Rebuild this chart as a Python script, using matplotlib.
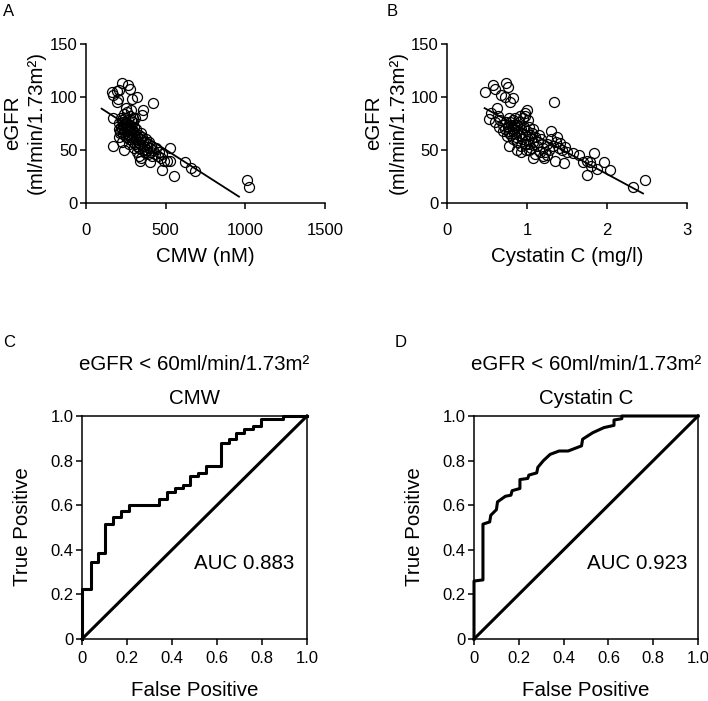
import matplotlib
matplotlib.use("Agg")
import matplotlib.pyplot as plt
import numpy as np

plt.rcParams['font.family'] = ['Liberation Sans', 'DejaVu Sans']

# panel A: CMW (nM) vs eGFR
cmw = [161, 168, 224, 192, 203, 209, 266, 276, 286, 318, 197, 423, 360, 251, 349, 172, 167, 238,
       381, 339, 402, 475, 554, 621, 657, 684, 527, 506, 527, 1008, 1025,
       205, 210, 215, 220, 225, 230, 235, 240, 245, 250, 255, 260, 262, 265, 270, 272, 275, 278,
       280, 283, 285, 288, 290, 292, 295, 298, 300, 302, 305, 308, 310, 312, 315, 318, 320, 325,
       330, 335, 338, 340, 345, 350, 355, 360, 365, 370, 375, 380, 385, 390, 395, 400, 405, 410,
       415, 420, 430, 440, 450, 460, 470, 480, 490, 210, 218, 228, 238, 248, 258, 268, 282, 296,
       215, 225, 232, 242, 252, 278, 300, 320, 333, 345]
egfr_a = [105, 102, 113, 106, 98, 107, 111, 108, 98, 100, 95, 94, 88, 90, 83, 80, 54, 50,
          53, 40, 39, 31, 25, 39, 33, 30, 52, 40, 40, 22, 15,
          75, 70, 68, 72, 78, 65, 74, 70, 80, 76, 68, 72, 64, 78, 70, 60, 82, 74,
          66, 72, 78, 62, 70, 76, 58, 68, 72, 64, 80, 56, 66, 60, 70, 62, 54, 58,
          64, 52, 60, 56, 66, 62, 50, 58, 54, 48, 60, 56, 50, 46, 58, 52, 48, 54,
          44, 50, 46, 52, 44, 48, 42, 46, 40, 62, 80, 58, 84, 62, 86, 56, 88, 80,
          66, 70, 76, 66, 72, 62, 52, 48, 44, 42]
fit_a_x = [98, 960]
fit_a_y = [89, 6]

# panel B: Cystatin C (mg/l) vs eGFR
cys = [0.47, 0.57, 0.60, 0.74, 0.76, 0.68, 0.72, 0.82, 0.79, 0.62, 1.34, 0.53, 0.64, 0.77,
       1.00, 0.97, 1.30, 1.75, 1.84, 1.96, 2.04, 2.33, 2.47, 1.70, 1.79, 1.87, 1.46, 1.35,
       1.08, 1.21, 1.58, 1.48, 1.41, 1.37,
       0.66, 0.70, 0.72, 0.74, 0.76, 0.78, 0.78, 0.80, 0.80, 0.82, 0.82, 0.84, 0.84, 0.86,
       0.86, 0.88, 0.88, 0.90, 0.90, 0.92, 0.92, 0.94, 0.94, 0.95, 0.96, 0.97, 0.98, 0.99,
       1.00, 1.01, 1.02, 1.03, 1.04, 1.05, 1.06, 1.08, 1.10, 1.12, 1.14, 1.16, 1.18, 1.20,
       1.22, 1.25, 1.28, 1.30, 1.32, 1.36, 1.40, 1.44, 1.50, 0.88, 0.93, 0.98, 1.01, 0.70,
       0.75, 0.85, 1.07, 1.15, 0.83, 0.91, 0.65, 0.60, 0.55, 1.25, 1.75, 1.80, 1.65, 1.20,
       1.10, 0.99, 0.87, 0.79, 0.77, 1.03]
egfr_b = [105, 111, 108, 113, 109, 102, 100, 99, 95, 90, 95, 79, 82, 54,
          88, 82, 68, 26, 47, 39, 31, 15, 22, 39, 39, 32, 38, 40,
          42, 42, 47, 53, 57, 62,
          78, 74, 70, 76, 72, 68, 80, 74, 64, 70, 78, 66, 74, 62,
          72, 68, 58, 76, 64, 70, 54, 66, 60, 80, 72, 56, 64, 50,
          68, 60, 56, 72, 64, 52, 66, 58, 62, 54, 58, 48, 60, 52,
          48, 56, 50, 60, 54, 58, 52, 50, 48, 50, 48, 85, 78, 68,
          63, 80, 70, 64, 60, 82, 72, 76, 85, 45, 40, 35, 45, 44,
          46, 56, 74, 76, 66, 50]
fit_b_x = [0.47, 2.45]
fit_b_y = [89.5, 9]

# panel C: ROC for CMW (step corners)
roc_c_fpr = [0, 0, 0.04, 0.073, 0.10, 0.137, 0.174, 0.208, 0.34, 0.377, 0.415, 0.448, 0.478,
             0.515, 0.549, 0.619, 0.653, 0.685, 0.722, 0.76, 0.797, 0.893, 1.0]
roc_c_tpr = [0, 0.224, 0.345, 0.385, 0.515, 0.545, 0.575, 0.60, 0.63, 0.66, 0.675, 0.69, 0.73,
             0.745, 0.775, 0.88, 0.895, 0.925, 0.94, 0.955, 0.985, 1.0, 1.0]

# panel D: ROC for Cystatin C
roc_d_fpr = [0, 0, 0.04, 0.04, 0.07, 0.075, 0.10, 0.105, 0.14, 0.165, 0.17, 0.205, 0.205, 0.24,
             0.245, 0.28, 0.285, 0.31, 0.34, 0.38, 0.42, 0.48, 0.485, 0.53, 0.58, 0.625, 0.625,
             0.66, 0.66, 1.0]
roc_d_tpr = [0, 0.26, 0.265, 0.515, 0.525, 0.555, 0.58, 0.615, 0.64, 0.645, 0.665, 0.675, 0.715,
             0.72, 0.735, 0.745, 0.77, 0.80, 0.828, 0.843, 0.843, 0.866, 0.896, 0.925, 0.948,
             0.958, 0.982, 0.988, 1.0, 1.0]

W, H = 708, 701
fig = plt.figure(figsize=(W / 100, H / 100), dpi=100)


def axes_px(left, right, top, bottom):
    return fig.add_axes([left / W, 1 - bottom / H, (right - left) / W, (bottom - top) / H])


def style(ax, box=False, xpad=10):
    for s in ['left', 'bottom', 'top', 'right']:
        ax.spines[s].set_linewidth(1.1)
    if not box:
        ax.spines['top'].set_visible(False)
        ax.spines['right'].set_visible(False)
    ax.tick_params(direction='out', length=4.5, width=1.1, labelsize=12)
    ax.tick_params(axis='x', pad=xpad)
    ax.tick_params(axis='y', pad=1.5)


lab = 14.8

# A
axA = axes_px(86, 325, 44, 203)
axA.plot(cmw, egfr_a, 'o', mfc='none', mec='black', ms=7.2, mew=0.9, clip_on=False)
axA.plot(fit_a_x, fit_a_y, color='black', lw=1.3)
axA.set_xlim(0, 1500)
axA.set_ylim(0, 150)
axA.set_xticks([0, 500, 1000, 1500])
axA.set_yticks([0, 50, 100, 150])
style(axA)
fig.text(205.5 / W, 1 - 257 / H, 'CMW (nM)', ha='center', va='center', fontsize=lab)
fig.text(12.5 / W, 1 - 123 / H, 'eGFR', ha='center', va='center', rotation=90, fontsize=lab)
fig.text(36.5 / W, 1 - 123 / H, '(ml/min/1.73m²)', ha='center', va='center', rotation=90, fontsize=lab)
fig.text(3 / W, 1 - 11 / H, 'A', ha='left', va='center', fontsize=12)

# B
axB = axes_px(447, 687, 44, 203)
axB.plot(cys, egfr_b, 'o', mfc='none', mec='black', ms=7.2, mew=0.9, clip_on=False)
axB.plot(fit_b_x, fit_b_y, color='black', lw=1.3)
axB.set_xlim(0, 3)
axB.set_ylim(0, 150)
axB.set_xticks([0, 1, 2, 3])
axB.set_yticks([0, 50, 100, 150])
style(axB)
fig.text(567 / W, 1 - 257 / H, 'Cystatin C (mg/l)', ha='center', va='center', fontsize=lab)
fig.text(374 / W, 1 - 123 / H, 'eGFR', ha='center', va='center', rotation=90, fontsize=lab)
fig.text(398 / W, 1 - 123 / H, '(ml/min/1.73m²)', ha='center', va='center', rotation=90, fontsize=lab)
fig.text(387 / W, 1 - 11 / H, 'B', ha='left', va='center', fontsize=12)

ticks = [0, 0.2, 0.4, 0.6, 0.8, 1.0]
ticklab = ['0', '0.2', '0.4', '0.6', '0.8', '1.0']

# C
axC = axes_px(82, 307, 416, 639)
axC.plot([0, 1], [0, 1], color='black', lw=2.2, clip_on=False)
axC.plot(roc_c_fpr, roc_c_tpr, color='black', lw=2.2, drawstyle='steps-post', clip_on=False)
axC.text(0.72, 0.34, 'AUC 0.883', ha='center', va='center', fontsize=lab)
axC.set_xlim(0, 1)
axC.set_ylim(0, 1)
axC.set_xticks(ticks)
axC.set_xticklabels(ticklab)
axC.set_yticks(ticks)
axC.set_yticklabels(ticklab)
style(axC, box=True, xpad=4)
fig.text(194.5 / W, 1 - 364 / H, 'eGFR < 60ml/min/1.73m²', ha='center', va='center', fontsize=lab)
fig.text(194.5 / W, 1 - 399 / H, 'CMW', ha='center', va='center', fontsize=lab)
fig.text(194.5 / W, 1 - 690 / H, 'False Positive', ha='center', va='center', fontsize=lab)
fig.text(23 / W, 1 - 527 / H, 'True Positive', ha='center', va='center', rotation=90, fontsize=lab)
fig.text(3 / W, 1 - 343 / H, 'C', ha='left', va='center', fontsize=12)

# D
axD = axes_px(474, 698, 416, 639)
axD.plot([0, 1], [0, 1], color='black', lw=2.2, clip_on=False)
axD.plot(roc_d_fpr, roc_d_tpr, color='black', lw=2.2, clip_on=False)
axD.text(0.73, 0.34, 'AUC 0.923', ha='center', va='center', fontsize=lab)
axD.set_xlim(0, 1)
axD.set_ylim(0, 1)
axD.set_xticks(ticks)
axD.set_xticklabels(ticklab)
axD.set_yticks(ticks)
axD.set_yticklabels(ticklab)
style(axD, box=True, xpad=4)
fig.text(586 / W, 1 - 364 / H, 'eGFR < 60ml/min/1.73m²', ha='center', va='center', fontsize=lab)
fig.text(586 / W, 1 - 399 / H, 'Cystatin C', ha='center', va='center', fontsize=lab)
fig.text(586 / W, 1 - 690 / H, 'False Positive', ha='center', va='center', fontsize=lab)
fig.text(415 / W, 1 - 527 / H, 'True Positive', ha='center', va='center', rotation=90, fontsize=lab)
fig.text(395 / W, 1 - 343 / H, 'D', ha='left', va='center', fontsize=12)

fig.savefig('out.png', dpi=100)
